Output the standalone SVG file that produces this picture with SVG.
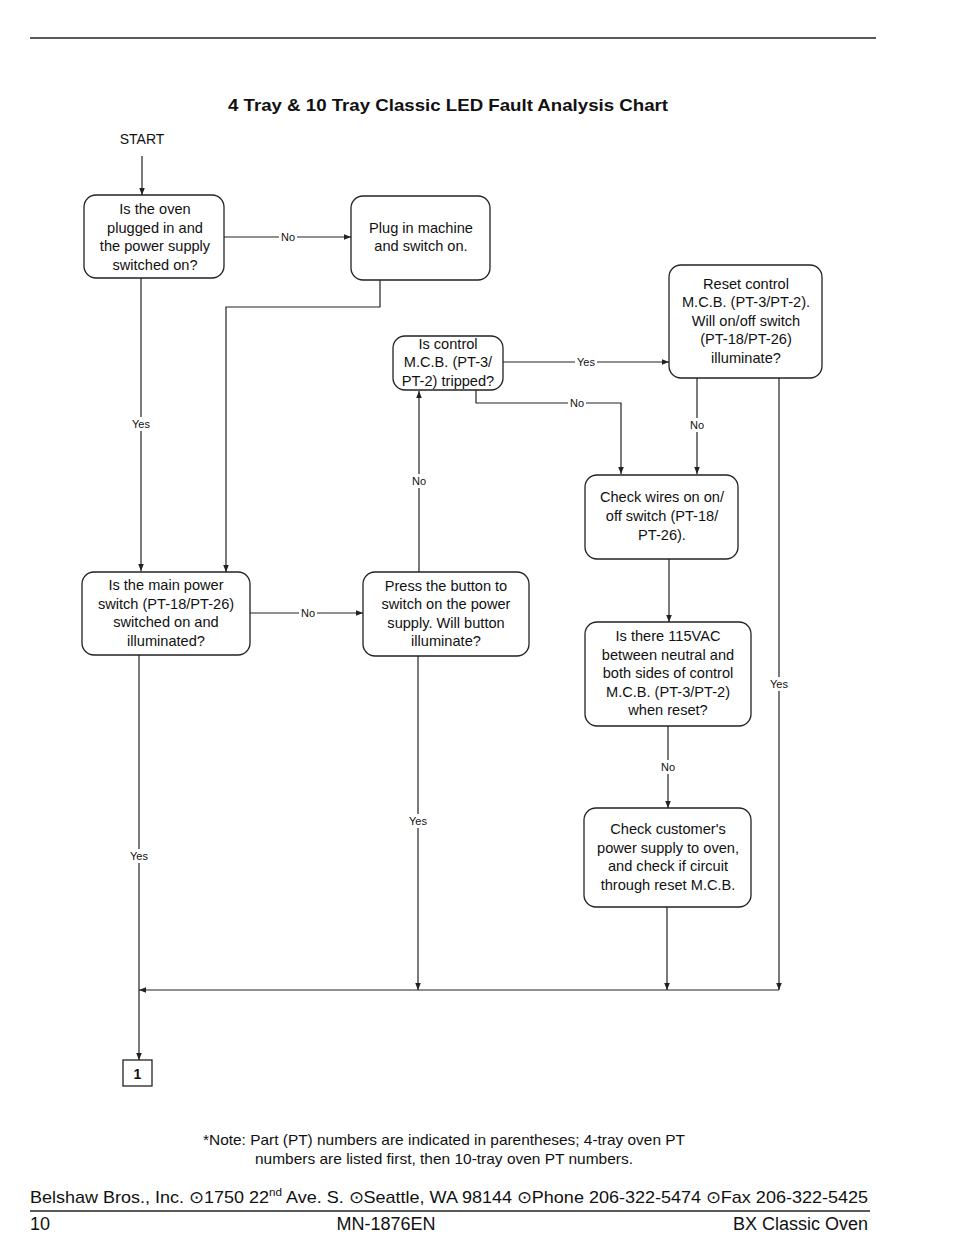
<svg xmlns="http://www.w3.org/2000/svg" width="954" height="1260" viewBox="0 0 954 1260">
<style>
text{font-family:"Liberation Sans",Arial,sans-serif;fill:#111}
.n rect{fill:#fff;stroke:#222;stroke-width:1.3}
.n text{font-size:14.6px;text-anchor:middle}
.c path{fill:none;stroke:#222;stroke-width:1.2}
.lbl{font-size:11px;text-anchor:middle}
.lb{fill:#fff}
</style>
<defs>
<marker id="a" viewBox="0 0 10 10" refX="10" refY="5" markerWidth="7" markerHeight="7" orient="auto" markerUnits="userSpaceOnUse">
<path d="M0,1 L10,5 L0,9 Z" fill="#222"/>
</marker>
</defs>
<rect width="954" height="1260" fill="#fff"/>
<line x1="30" y1="38" x2="876" y2="38" stroke="#222" stroke-width="1.5"/>
<text x="448" y="111" font-size="17" font-weight="bold" text-anchor="middle" textLength="440" lengthAdjust="spacingAndGlyphs">4 Tray &amp; 10 Tray Classic LED Fault Analysis Chart</text>
<text x="142" y="144" font-size="14" text-anchor="middle">START</text>

<g class="c" id="connectors">
<path d="M142,156 V195" marker-end="url(#a)"/>
<path d="M224,237 H351" marker-end="url(#a)"/>
<path d="M380,280 V307 H226 V572" marker-end="url(#a)"/>
<path d="M141,278 V571" marker-end="url(#a)"/>
<path d="M250,613 H363" marker-end="url(#a)"/>
<path d="M419,572 V391" marker-end="url(#a)"/>
<path d="M503,362 H669" marker-end="url(#a)"/>
<path d="M476,390 V403 H621 V474" marker-end="url(#a)"/>
<path d="M697,378 V474" marker-end="url(#a)"/>
<path d="M779,378 V990" marker-end="url(#a)"/>
<path d="M669,559 V622" marker-end="url(#a)"/>
<path d="M668,726 V808" marker-end="url(#a)"/>
<path d="M667,907 V990" marker-end="url(#a)"/>
<path d="M418,656 V990" marker-end="url(#a)"/>
<path d="M779,990 H139"  marker-end="url(#a)"/>
<path d="M139,655 V1060" marker-end="url(#a)"/>
<rect class="lb" x="279" y="230" width="18" height="14"/>
<text class="lbl" x="288" y="241">No</text>
<rect class="lb" x="131" y="417" width="20" height="14"/>
<text class="lbl" x="141" y="428">Yes</text>
<rect class="lb" x="299" y="606" width="18" height="14"/>
<text class="lbl" x="308" y="617">No</text>
<rect class="lb" x="410" y="474" width="18" height="14"/>
<text class="lbl" x="419" y="485">No</text>
<rect class="lb" x="575" y="355" width="22" height="14"/>
<text class="lbl" x="586" y="366">Yes</text>
<rect class="lb" x="568" y="396" width="18" height="14"/>
<text class="lbl" x="577" y="407">No</text>
<rect class="lb" x="688" y="418" width="18" height="14"/>
<text class="lbl" x="697" y="429">No</text>
<rect class="lb" x="768" y="677" width="22" height="14"/>
<text class="lbl" x="779" y="688">Yes</text>
<rect class="lb" x="659" y="760" width="18" height="14"/>
<text class="lbl" x="668" y="771">No</text>
<rect class="lb" x="407" y="814" width="22" height="14"/>
<text class="lbl" x="418" y="825">Yes</text>
<rect class="lb" x="128" y="849" width="22" height="14"/>
<text class="lbl" x="139" y="860">Yes</text>
</g>

<g class="n" id="n1">
<rect x="84" y="195" width="140" height="83" rx="12"/>
<text x="155" y="214">Is the oven</text>
<text x="155" y="233">plugged in and</text>
<text x="155" y="251">the power supply</text>
<text x="155" y="270">switched on?</text>
</g>
<g class="n" id="n2">
<rect x="351" y="196" width="139" height="84" rx="12"/>
<text x="421" y="233">Plug in machine</text>
<text x="421" y="251">and switch on.</text>
</g>
<g class="n" id="n3">
<rect x="82" y="572" width="168" height="83" rx="12"/>
<text x="166" y="590">Is the main power</text>
<text x="166" y="609">switch (PT-18/PT-26)</text>
<text x="166" y="627">switched on and</text>
<text x="166" y="646">illuminated?</text>
</g>
<g class="n" id="n4">
<rect x="363" y="572" width="166" height="84" rx="12"/>
<text x="446" y="591">Press the button to</text>
<text x="446" y="609">switch on the power</text>
<text x="446" y="628">supply.  Will button</text>
<text x="446" y="646">illuminate?</text>
</g>
<g class="n" id="n5">
<rect x="393" y="336" width="110" height="54" rx="12"/>
<text x="448" y="349">Is control</text>
<text x="448" y="367">M.C.B. (PT-3/</text>
<text x="448" y="386">PT-2) tripped?</text>
</g>
<g class="n" id="n6">
<rect x="669" y="265" width="153" height="113" rx="12"/>
<text x="746" y="289">Reset control</text>
<text x="746" y="307">M.C.B. (PT-3/PT-2).</text>
<text x="746" y="326">Will on/off switch</text>
<text x="746" y="344">(PT-18/PT-26)</text>
<text x="746" y="363">illuminate?</text>
</g>
<g class="n" id="n7">
<rect x="585" y="475" width="153" height="84" rx="12"/>
<text x="662" y="502">Check wires on on/</text>
<text x="662" y="521">off switch (PT-18/</text>
<text x="662" y="540">PT-26).</text>
</g>
<g class="n" id="n8">
<rect x="585" y="622" width="166" height="104" rx="12"/>
<text x="668" y="641">Is there 115VAC</text>
<text x="668" y="660">between neutral and</text>
<text x="668" y="678">both sides of control</text>
<text x="668" y="697">M.C.B. (PT-3/PT-2)</text>
<text x="668" y="715">when reset?</text>
</g>
<g class="n" id="n9">
<rect x="584" y="808" width="167" height="99" rx="12"/>
<text x="668" y="834">Check customer's</text>
<text x="668" y="853">power supply to oven,</text>
<text x="668" y="871">and check if circuit</text>
<text x="668" y="890">through reset M.C.B.</text>
</g>
<g id="n10">
<rect x="123" y="1060" width="29" height="26" fill="#fff" stroke="#222" stroke-width="1.3"/>
<text x="137.5" y="1079" font-size="14" font-weight="bold" text-anchor="middle">1</text>
</g>

<text x="444" y="1145" font-size="14.5" text-anchor="middle" textLength="482" lengthAdjust="spacingAndGlyphs">*Note: Part (PT) numbers are indicated in parentheses; 4-tray oven PT</text>
<text x="444" y="1164" font-size="14.5" text-anchor="middle" textLength="378" lengthAdjust="spacingAndGlyphs">numbers are listed first, then 10-tray oven PT numbers.</text>
<text x="30" y="1203" font-size="17" textLength="838" lengthAdjust="spacingAndGlyphs">Belshaw Bros., Inc. ⊙1750 22<tspan font-size="11" dy="-7">nd</tspan><tspan dy="7"> Ave. S. ⊙Seattle, WA 98144 ⊙Phone 206-322-5474 ⊙Fax 206-322-5425</tspan></text>
<line x1="30" y1="1211" x2="870" y2="1211" stroke="#222" stroke-width="1.3"/>
<text x="30" y="1230" font-size="18">10</text>
<text x="386" y="1230" font-size="18" text-anchor="middle">MN-1876EN</text>
<text x="868" y="1230" font-size="18" text-anchor="end">BX Classic Oven</text>
</svg>
